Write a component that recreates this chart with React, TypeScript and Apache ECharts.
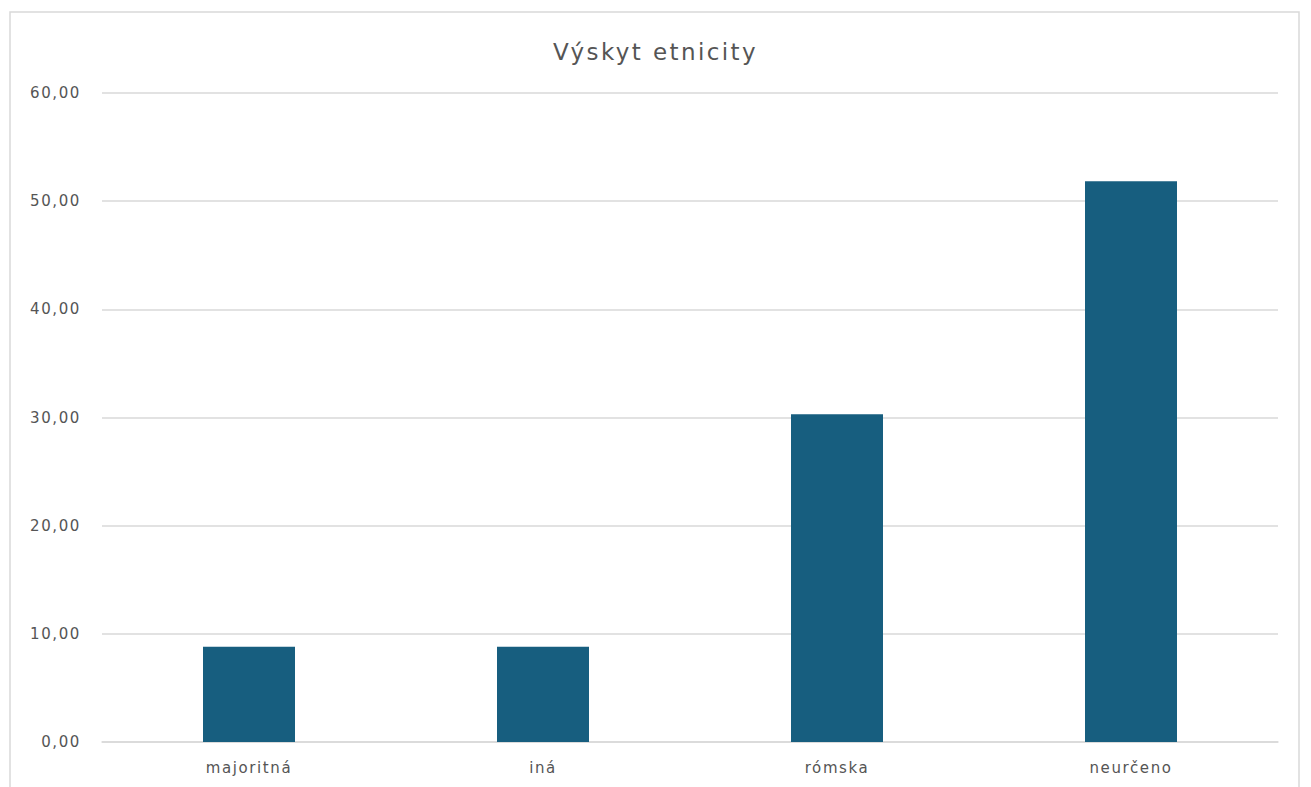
import React, { useEffect, useRef } from "react";
import * as echarts from "echarts";

const categories = ["majoritná", "iná", "rómska", "neurčeno"];
const values = [8.81, 8.81, 30.29, 51.83];
const yTicks = { min: 0, max: 60, interval: 10 };
const titleText = "Výskyt etnicity";

const FONT = "'DejaVu Sans', Verdana, sans-serif";

export default function App() {
  const ref = useRef<HTMLDivElement>(null);
  useEffect(() => {
    if (!ref.current) return;
    const el = ref.current;
    const chart = echarts.init(el, null, { renderer: "svg" });
    chart.setOption({
      animation: false,
      backgroundColor: "#ffffff",
      textStyle: { fontFamily: FONT },
      graphic: [
        {
          type: "rect",
          shape: { x: 10, y: 12, width: 1289, height: 800 },
          style: { fill: "none", stroke: "#d9d9d9", lineWidth: 1.5 },
          silent: true,
        },
      ],
      title: {
        text: titleText,
        left: "center",
        top: 35,
        textStyle: { color: "#555555", fontSize: 23, fontWeight: "normal", fontFamily: FONT },
      },
      grid: { left: 102, right: 33, top: 93, bottom: 45, containLabel: false },
      xAxis: {
        type: "category",
        data: categories,
        axisLine: { lineStyle: { color: "#d9d9d9", width: 1.5 } },
        axisTick: { show: false },
        axisLabel: { color: "#555555", fontSize: 15, margin: 18, fontFamily: FONT },
      },
      yAxis: {
        type: "value",
        min: yTicks.min,
        max: yTicks.max,
        interval: yTicks.interval,
        axisLine: { show: false },
        axisTick: { show: false },
        splitLine: { lineStyle: { color: "#d9d9d9", width: 1.5 } },
        axisLabel: {
          color: "#555555",
          fontSize: 15,
          margin: 21,
          fontFamily: FONT,
          formatter: (v: number) => v.toFixed(2).replace(".", ","),
        },
      },
      series: [
        {
          type: "bar",
          data: values,
          barWidth: 92,
          itemStyle: { color: "#175e7f" },
        },
      ],
    });
    const applySpacing = () => {
      el.querySelectorAll("text").forEach((t) => {
        const c = t.textContent || "";
        let s = "1.6";
        if (c === titleText) s = "2.4";
        else if (categories.includes(c)) s = "1.6";
        t.setAttribute("letter-spacing", s);
      });
    };
    chart.on("finished", applySpacing);
    const timer = setTimeout(applySpacing, 50);
    applySpacing();
    return () => {
      clearTimeout(timer);
      chart.dispose();
    };
  }, []);
  return (
    <div
      ref={ref}
      style={{ position: "fixed", left: 0, top: 0, width: 1311, height: 787 }}
    />
  );
}
